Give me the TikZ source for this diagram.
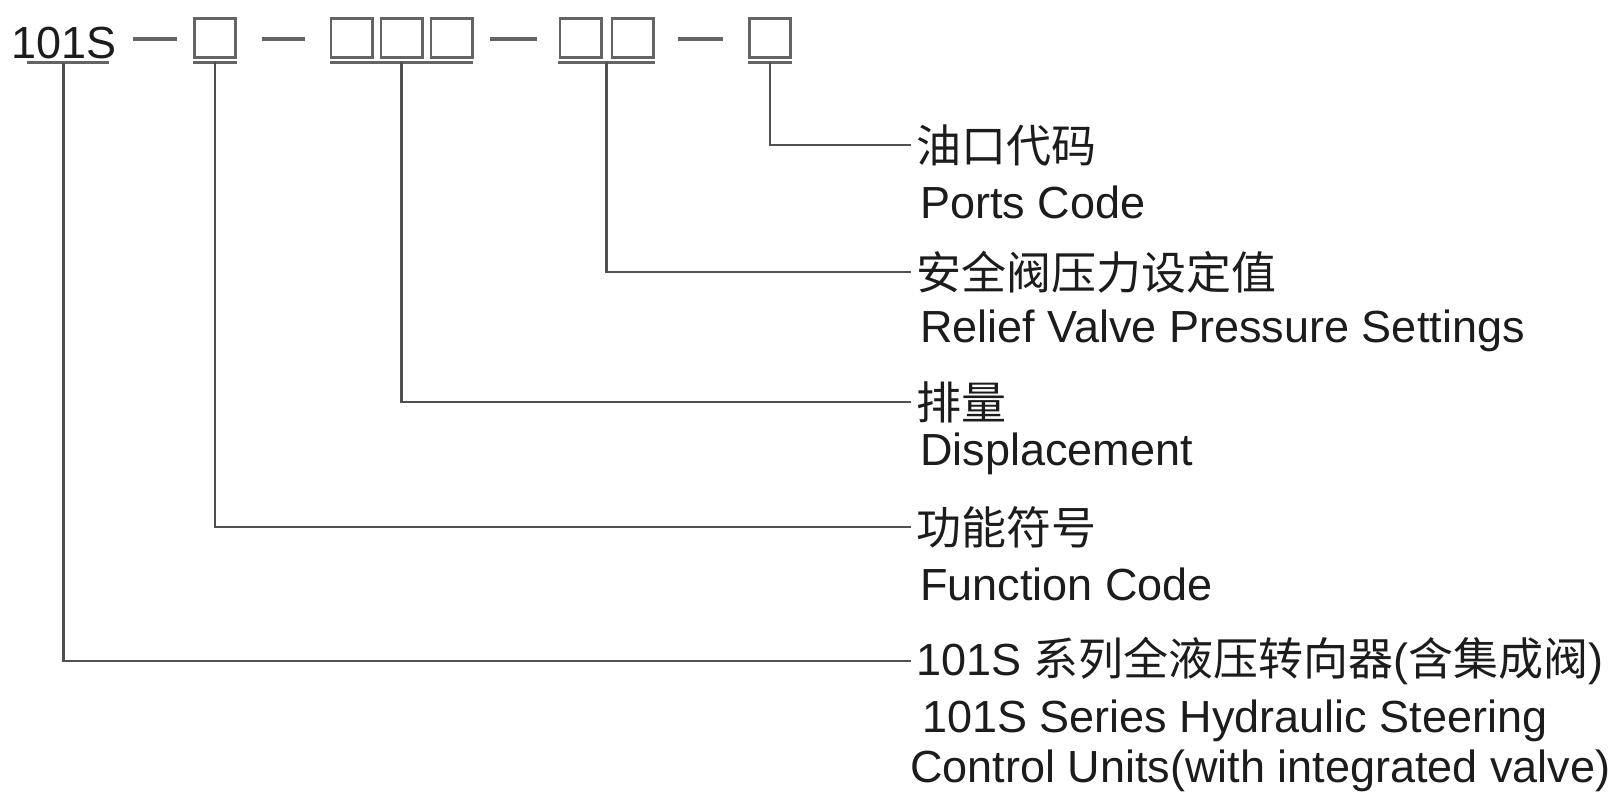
\documentclass[tikz,border=0pt]{standalone}
\usepackage{fontspec}
\setmainfont{Liberation Sans}
\newfontfamily\latn{Liberation Sans}
\newfontfamily\cjk{Noto Sans CJK SC}
\usepackage{xcolor}
\usetikzlibrary{calc}
\definecolor{codeK}{RGB}{28,28,28}
\definecolor{leadG}{RGB}{80,80,80}
\definecolor{boxG}{RGB}{100,100,100}
\tikzset{
  digit/.style={draw=boxG, line width=2.6pt, minimum width=41.4pt, minimum height=39.4pt, inner sep=0pt},
  lead/.style={draw=leadG, line width=2.6pt},
  bar/.style={draw=boxG, line width=3.8pt},
  dashbar/.style={draw=boxG, line width=3.2pt},
  cnlabel/.style={anchor=west, inner xsep=5pt, inner ysep=0pt, text=codeK, font=\cjk\fontsize{45}{50}\selectfont},
  enlabel/.style={anchor=base west, inner sep=0pt, text=codeK, font=\fontsize{45}{50}\selectfont}
}

\begin{document}
\begin{tikzpicture}[x=1pt, y=-1pt]
\useasboundingbox (0,0) rectangle (1616,793);
% model code: 101S - X - XXX - XX - X
\node[enlabel] (code) at (11,58) {101S};
\foreach \n/\x in {b1/215, g3a/351.5, g3b/401.5, g3c/451.5, g2a/580.5, g2b/632.5, b5/770}
  \node[digit] (\n) at (\x,38) {};
\foreach \xa/\xb in {133/177, 262/305, 490/537, 678/723}
  \draw[dashbar] (\xa,39) -- (\xb,39);
\foreach \xa/\xb in {27/109, 193/237, 330/473, 558/655, 748/792}
  \draw[bar] (\xa,62.5) -- (\xb,62.5);
% tops of the leaders
\path (code.base) ++(0,5) coordinate (t0);
\path (b1.south) ++(0,3) coordinate (t1);
\path (g3b.south) ++(0,3) coordinate (t3);
\path ($(g2a.south)!0.5!(g2b.south)$) ++(0,3) coordinate (t4);
\path (b5.south) ++(0,3) coordinate (t5);
% labels
\node[cnlabel] (cn5) at (911,145) {油口代码};
\node[enlabel] (en5) at (920,218) {Ports Code};
\node[cnlabel] (cn4) at (911,272) {安全阀压力设定值};
\node[enlabel] (en4) at (920,342) {Relief Valve Pressure Settings};
\node[cnlabel] (cn3) at (911,402) {排量};
\node[enlabel] (en3) at (920,465) {Displacement};
\node[cnlabel] (cn1) at (911,527) {功能符号};
\node[enlabel] (en1) at (920,600) {Function Code};
\node[cnlabel] (cn0) at (911,661) {{\latn 101S }系列全液压转向器{\latn (}含集成阀{\latn )}};
\node[enlabel] (en0) at (922,732) {101S Series Hydraulic Steering};
\node[enlabel] (en0b) at (910,782) {Control Units(with integrated valve)};
% leaders
\draw[lead] (t5) |- (cn5.west);
\draw[lead] (t4) |- (cn4.west);
\draw[lead] (t3) |- (cn3.west);
\draw[lead] (t1) |- (cn1.west);
\draw[lead] (t0) |- (cn0.west);
\end{tikzpicture}
\end{document}
